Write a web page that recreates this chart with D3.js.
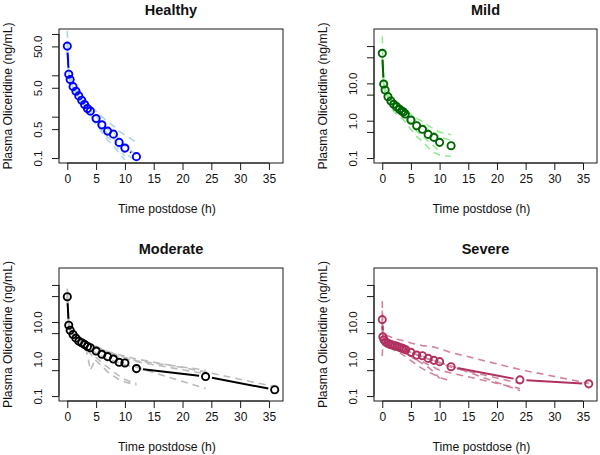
<!DOCTYPE html>
<html><head><meta charset="utf-8">
<script src="https://cdn.jsdelivr.net/npm/d3@7"></script>
<style>body{margin:0;background:#fff}svg text{font-family:"Liberation Sans",Arial,sans-serif;fill:#111}</style>
</head><body>
<svg id="c" width="600" height="455"></svg>
<script>
// ---------- data ----------
const panelTitles = ["Healthy", "Mild", "Moderate", "Severe"];
const xTicks = [0, 5, 10, 15, 20, 25, 30, 35];
const yTicks = [0.1, 0.5, 1, 5, 10, 50, 100];
const yTickLabelsHealthy = ["0.1", "0.5", "", "5.0", "", "50.0", ""];
const yTickLabelsOther = ["0.1", "", "1.0", "", "10.0", "", ""];
const xLim = [0, 36];
const yLimHealthy = [0.1, 100];
const yLimOther = [0.1, 211];

const healthyTime = [0,0.25,0.5,1,1.5,2,2.5,3,3.5,4,5,6,7,8,9,10,12];
const healthyMean = [50.9,10.6,7.87,5.33,4.12,3.18,2.50,1.96,1.57,1.36,0.90,0.635,0.448,0.378,0.239,0.174,0.108];
const healthySubjects = [
  [120,12.5,9,6.3,4.9,3.8,3.1,2.5,2.15,1.9,1.35,1.0,0.75,0.6,0.45,0.36,0.24],
  [35,9.5,7,4.6,3.5,2.7,2.1,1.6,1.25,1.05,0.65,0.42,0.27,0.2,0.13,0.09,null],
  [55,10.5,7.6,5.1,3.9,3.0,2.3,1.8,1.4,1.2,0.8,0.55,0.38,0.32,0.2,0.13,0.085],
  [65,11,8.2,5.6,4.3,3.3,2.6,2.05,1.65,1.45,1.0,0.7,0.5,0.42,0.28,0.2,0.12],
  [40,10,7.3,5.0,3.8,2.9,2.2,1.7,1.3,1.1,0.7,0.48,0.32,0.25,0.16,0.11,null]
];

const mildTime = [0,0.25,0.5,1,1.5,2,2.5,3,3.4,3.7,4,5,6,7,8,9,10,12];
const mildMean = [64,9.6,6.65,4.41,3.38,2.75,2.38,2.02,1.82,1.71,1.51,1.04,0.736,0.588,0.43,0.358,0.263,0.214];
const mildSubjects = [
  [180,11,7.5,5,3.9,3.2,2.8,2.5,2.3,2.15,1.95,1.5,1.15,0.95,0.75,0.6,0.5,0.42],
  [35,8,5.4,3.2,2.3,1.8,1.5,1.3,1.15,1.05,0.92,0.58,0.38,0.28,0.19,0.14,0.12,0.11],
  [55,9,6.2,4.1,3.1,2.5,2.1,1.75,1.55,1.45,1.28,0.82,0.52,0.4,0.28,0.21,0.15,null],
  [45,10,7,4.7,3.7,3.0,2.6,2.25,2.05,1.95,1.75,1.25,0.95,0.75,0.58,0.48,0.36,0.3]
];

const moderateTime = [0,0.25,0.5,1,1.5,2,2.5,3,3.5,4,5,6,7,8,9,10,12,24,36];
const moderateMean = [48,8.17,6.0,4.6,3.66,3.04,2.75,2.48,2.19,2.02,1.64,1.34,1.16,1.0,0.817,0.784,0.552,0.337,0.148];
const moderateSubjects = [
  [80,9,6.5,5,4,3.4,3.1,2.9,2.7,2.6,2.2,1.9,1.6,1.45,1.3,1.2,1.0,0.45,0.18],
  [50,8.5,6.2,4.8,3.9,3.2,2.9,2.6,2.4,2.3,1.9,1.6,1.4,1.3,1.15,1.05,0.85,0.4,null],
  [40,7.5,5.5,4.2,3.4,2.8,2.5,2.2,2.0,1.8,1.45,1.2,1.0,0.9,0.8,0.7,0.6,0.16,null],
  [45,8,5.8,4.3,3.3,2.6,2.3,2.0,1.7,1.4,0.9,0.65,0.45,0.35,0.28,0.24,0.2,null,null],
  [55,8,6,4.5,3.5,3.0,2.7,2.4,1.3,0.5,1.1,0.8,0.6,0.45,0.35,0.28,0.22,null,null],
  [60,9,6.5,4.8,3.8,3.3,3.0,2.8,2.6,2.5,2.1,1.8,1.55,1.4,1.25,1.1,0.9,0.5,null]
];

const severeTime = [0,0.1,0.3,0.6,1,1.4,1.8,2.2,2.6,3,3.4,3.7,4.1,5,6,7,8,9,10,12,24,36];
const severeMean = [11.6,3.98,3.3,2.86,2.64,2.48,2.38,2.28,2.19,2.06,1.98,1.90,1.78,1.51,1.28,1.23,1.04,0.92,0.85,0.62,0.274,0.214];
const severeSubjects = [
  [37,5,4.4,4.3,4.2,4.0,3.8,3.6,3.4,3.3,3.2,3.1,3.0,2.7,2.5,2.3,2.2,2.1,1.9,1.5,0.52,0.22],
  [1.2,3,2.8,2.5,2.3,2.1,2.0,1.9,1.8,1.7,1.6,1.5,1.4,1.15,0.95,0.85,0.7,0.6,0.5,0.42,0.16,null],
  [20,4,3.4,3,2.7,2.5,2.4,2.3,2.2,2.1,2.0,1.9,1.8,1.5,1.3,1.2,1.0,0.9,0.8,0.6,0.22,null],
  [8,3.5,3,2.5,2.2,2.0,1.85,1.7,1.6,1.5,1.35,1.25,1.15,0.9,0.7,0.55,0.45,0.38,0.32,0.25,null,null],
  [12,4.5,3.6,3.0,2.6,2.4,2.2,2.1,1.95,1.85,1.75,1.65,1.55,1.2,0.95,0.75,0.6,0.45,0.3,null,null,null],
  [15,4,3.2,2.8,2.6,2.4,2.3,2.2,2.1,2.0,1.9,1.85,1.75,1.5,1.3,1.15,1.0,0.9,0.8,0.65,0.14,null]
];

// ---------- layout / style ----------
const panels = [
  {title: panelTitles[0], time: healthyTime, mean: healthyMean, subjects: healthySubjects, ylim: yLimHealthy, ylabels: yTickLabelsHealthy,
   box: {l: 59, r: 283, t: 29, b: 163}, col: "#0000FF", sub: "#ADD8E6"},
  {title: panelTitles[1], time: mildTime, mean: mildMean, subjects: mildSubjects, ylim: yLimOther, ylabels: yTickLabelsOther,
   box: {l: 374, r: 597, t: 29, b: 163}, col: "#006400", sub: "#90EE90"},
  {title: panelTitles[2], time: moderateTime, mean: moderateMean, subjects: moderateSubjects, ylim: yLimOther, ylabels: yTickLabelsOther,
   box: {l: 59, r: 283, t: 268, b: 401}, col: "#000000", sub: "#BBBBBB"},
  {title: panelTitles[3], time: severeTime, mean: severeMean, subjects: severeSubjects, ylim: yLimOther, ylabels: yTickLabelsOther,
   box: {l: 374, r: 597, t: 268, b: 401}, col: "#B03060", sub: "#D4849A"}
];

const svg = d3.select("#c");
const ink = "#1a1a1a";

panels.forEach((p, i) => {
  const B = p.box;
  const xe = (xLim[1] - xLim[0]) * 0.04;
  const x = d3.scaleLinear().domain([xLim[0] - xe, xLim[1] + xe]).range([B.l, B.r]);
  const l0 = Math.log10(p.ylim[0]), l1 = Math.log10(p.ylim[1]);
  const ye = (l1 - l0) * 0.04;
  const y = d3.scaleLog().domain([Math.pow(10, l0 - ye), Math.pow(10, l1 + ye)]).range([B.b, B.t]);

  const g = svg.append("g");
  const clipId = "clip" + i;
  svg.append("clipPath").attr("id", clipId).append("rect")
    .attr("x", B.l).attr("y", B.t).attr("width", B.r - B.l).attr("height", B.b - B.t);
  const plot = g.append("g").attr("clip-path", `url(#${clipId})`);

  // individual subjects (dashed)
  const line = d3.line().defined(d => d[1] != null).x(d => x(d[0])).y(d => y(d[1]));
  p.subjects.forEach(s => {
    plot.append("path")
      .attr("d", line(p.time.map((t, k) => [t, s[k]])))
      .attr("fill", "none").attr("stroke", p.sub).attr("stroke-width", 1.6)
      .attr("stroke-dasharray", "7,5");
  });

  // mean line, type "b" (gaps around points)
  const pts = p.time.map((t, k) => [x(t), y(p.mean[k])]);
  const gap = 6.5;
  for (let k = 0; k < pts.length - 1; k++) {
    const [x1, y1] = pts[k], [x2, y2] = pts[k + 1];
    const dx = x2 - x1, dy = y2 - y1, d = Math.hypot(dx, dy);
    if (d <= 2 * gap) continue;
    const ux = dx / d, uy = dy / d;
    plot.append("line")
      .attr("x1", x1 + ux * gap).attr("y1", y1 + uy * gap)
      .attr("x2", x2 - ux * gap).attr("y2", y2 - uy * gap)
      .attr("stroke", p.col).attr("stroke-width", 2);
  }
  plot.selectAll("circle.m").data(p.time.map((t, k) => [t, p.mean[k]])).join("circle")
    .attr("cx", d => x(d[0])).attr("cy", d => y(d[1])).attr("r", 3.6)
    .attr("fill", "none").attr("stroke", p.col).attr("stroke-width", 1.9);

  // box
  g.append("rect").attr("x", B.l).attr("y", B.t).attr("width", B.r - B.l).attr("height", B.b - B.t)
    .attr("fill", "none").attr("stroke", ink).attr("stroke-width", 1);

  // x axis
  const xa = g.append("g").attr("transform", `translate(0,${B.b})`)
    .call(d3.axisBottom(x).tickValues(xTicks).tickSize(7).tickPadding(4).tickFormat(d3.format("d")));
  xa.select(".domain").attr("d", `M${x(xTicks[0])},0H${x(xTicks[xTicks.length - 1])}`).attr("stroke", ink);
  xa.selectAll(".tick line").attr("stroke", ink);
  xa.selectAll(".tick text").attr("font-size", 12).attr("fill", ink).attr("font-family", "Liberation Sans, Arial, sans-serif");

  // y axis
  const ya = g.append("g").attr("transform", `translate(${B.l},0)`)
    .call(d3.axisLeft(y).tickValues(yTicks).tickSize(7).tickFormat((d, k) => p.ylabels[k]));
  ya.select(".domain").attr("d", `M0,${y(yTicks[0])}V${y(yTicks[yTicks.length - 1])}`).attr("stroke", ink);
  ya.selectAll(".tick line").attr("stroke", ink);
  ya.selectAll(".tick text")
    .attr("font-size", 11.5).attr("fill", ink).attr("font-family", "Liberation Sans, Arial, sans-serif")
    .attr("text-anchor", "middle").attr("dy", null).attr("x", null)
    .attr("transform", "translate(-17,0) rotate(-90)");

  // titles
  g.append("text").attr("x", (B.l + B.r) / 2).attr("y", B.t - 14.5)
    .attr("text-anchor", "middle").attr("font-size", 14.5).attr("font-weight", "bold").text(p.title);
  g.append("text").attr("x", (B.l + B.r) / 2 - 4).attr("y", B.b + 49.5)
    .attr("text-anchor", "middle").attr("font-size", 12.2).text("Time postdose (h)");
  g.append("text").attr("transform", `translate(${B.l - 47},${(B.t + B.b) / 2}) rotate(-90)`)
    .attr("text-anchor", "middle").attr("font-size", 12.2).text("Plasma Oliceridine (ng/mL)");
});
</script>
</body></html>
